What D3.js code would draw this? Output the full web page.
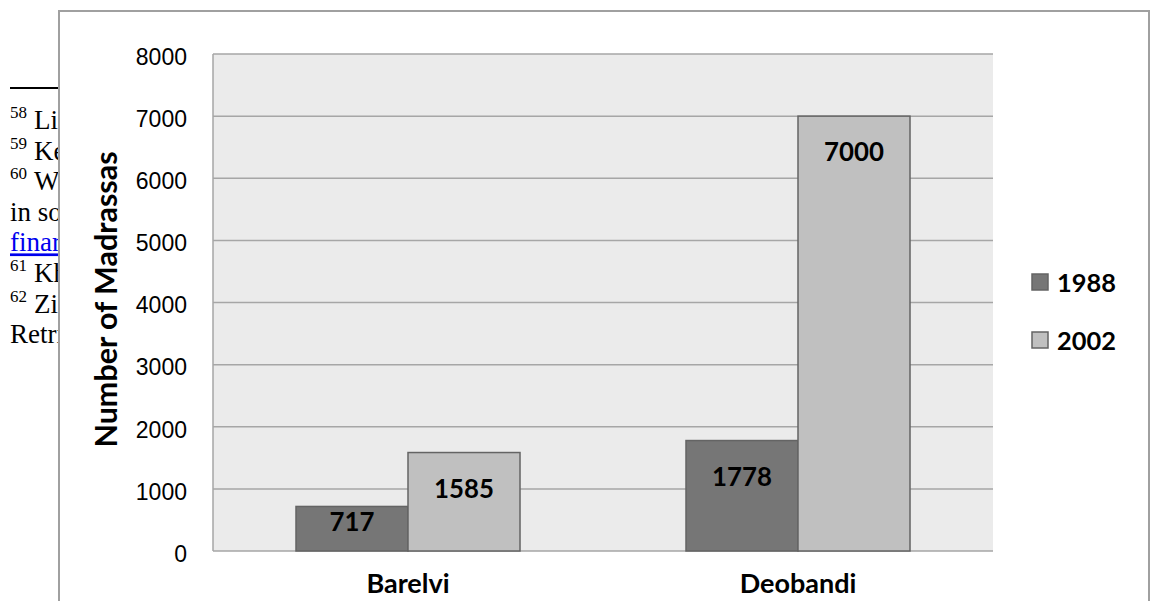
<!DOCTYPE html>
<html>
<head>
<meta charset="utf-8">
<script src="https://cdn.jsdelivr.net/npm/d3@7"></script>
<style>
  html, body { margin: 0; padding: 0; background: #ffffff; }
  svg { display: block; }
</style>
</head>
<body>
<svg id="chart" width="1151" height="601"></svg>
<script>
// Madrassa counts by school of thought
const categories = ["Barelvi", "Deobandi"];
const seriesNames = ["1988", "2002"];
const values1988 = [717, 1778];
const values2002 = [1585, 7000];
const yTicks = [0, 1000, 2000, 3000, 4000, 5000, 6000, 7000, 8000];
const yTitle = "Number of Madrassas";

// Footnote fragments of the page behind the chart
const noteLines = [
  { sup: "58", text: "Li" },
  { sup: "59", text: "Ke" },
  { sup: "60", text: "W" },
  { sup: "", text: "in so" },
  { sup: "", text: "finar", link: true },
  { sup: "61", text: "Kh" },
  { sup: "62", text: "Zi" },
  { sup: "", text: "Retri" }
];

const seriesValues = [values1988, values2002];
const seriesFill = ["#767676", "#c0c0c0"];
const boldFont = "Lato, 'Open Sans', sans-serif";

const svg = d3.select("#chart");

// ---- page text behind the chart ----
const page = svg.append("g");
page.append("line")
  .attr("x1", 10).attr("x2", 60).attr("y1", 88).attr("y2", 88)
  .attr("stroke", "#000").attr("stroke-width", 2);
noteLines.forEach((d, i) => {
  const yy = 129 + i * 30.6;
  const t = page.append("text")
    .attr("x", 10).attr("y", yy)
    .attr("font-family", "'Liberation Serif', 'Times New Roman', serif")
    .attr("font-size", 27)
    .attr("fill", d.link ? "#0000ee" : "#000");
  if (d.sup) {
    t.append("tspan").attr("font-size", 17).attr("dy", -11).text(d.sup);
    t.append("tspan").attr("dy", 11).attr("dx", 7).text(d.text);
  } else {
    t.append("tspan").text(d.text);
  }
  if (d.link) t.attr("text-decoration", "underline");
});

// ---- chart frame ----
const frame = { x: 59, y: 11, w: 1090, h: 620 };
svg.append("rect")
  .attr("x", frame.x).attr("y", frame.y)
  .attr("width", frame.w).attr("height", frame.h)
  .attr("fill", "#ffffff").attr("stroke", "#a0a0a0").attr("stroke-width", 2);

const plot = { left: 213, right: 993, top: 54, bottom: 551 };

const x0 = d3.scaleBand().domain(categories)
  .range([plot.left, plot.right]).paddingInner(0).paddingOuter(0);
const x1 = d3.scaleBand().domain(seriesNames)
  .range([0, x0.bandwidth()]).paddingInner(0).paddingOuter(0.741);
const y = d3.scaleLinear().domain([0, 8000]).range([plot.bottom, plot.top]);

// plot background
svg.append("rect")
  .attr("x", plot.left).attr("y", plot.top)
  .attr("width", plot.right - plot.left).attr("height", plot.bottom - plot.top)
  .attr("fill", "#ebebeb");

// gridlines
svg.append("g").selectAll("line").data(yTicks).join("line")
  .attr("x1", plot.left).attr("x2", plot.right)
  .attr("y1", d => y(d)).attr("y2", d => y(d))
  .attr("stroke", "#a6a6a6").attr("stroke-width", 1.5);

// plot border (left edge)
svg.append("line")
  .attr("x1", plot.left).attr("x2", plot.left)
  .attr("y1", plot.top).attr("y2", plot.bottom)
  .attr("stroke", "#a6a6a6").attr("stroke-width", 1.5);

// y axis via d3.axisLeft
const yAxis = svg.append("g")
  .attr("transform", `translate(${plot.left},0)`)
  .call(d3.axisLeft(y).tickValues(yTicks).tickSize(0).tickPadding(26).tickFormat(d3.format("d")));
yAxis.select(".domain").remove();
yAxis.selectAll("text")
  .attr("font-family", "'Liberation Sans', Arial, sans-serif")
  .attr("font-size", 23)
  .attr("fill", "#000")
  .attr("dy", "0.45em");

// x axis labels
const xAxis = svg.append("g")
  .attr("transform", `translate(0,${plot.bottom})`)
  .call(d3.axisBottom(x0).tickSize(0).tickPadding(23));
xAxis.select(".domain").remove();
xAxis.selectAll("text")
  .attr("font-family", boldFont)
  .attr("font-weight", "bold")
  .attr("font-size", 27)
  .attr("fill", "#000");

// y title
svg.append("text")
  .attr("transform", `translate(117,${(plot.top + plot.bottom) / 2 - 3}) rotate(-90)`)
  .attr("text-anchor", "middle")
  .attr("font-family", boldFont)
  .attr("font-weight", "bold")
  .attr("font-size", 30.5)
  .attr("fill", "#000")
  .text(yTitle);

// bars
const groups = svg.append("g").selectAll("g").data(categories).join("g")
  .attr("transform", d => `translate(${x0(d)},0)`);

const barData = (c, ci) => seriesNames.map((s, si) => ({ s, si, v: seriesValues[si][ci] }));

groups.selectAll("rect").data((c, ci) => barData(c, ci)).join("rect")
  .attr("x", d => x1(d.s))
  .attr("width", x1.bandwidth())
  .attr("y", d => y(d.v))
  .attr("height", d => y(0) - y(d.v))
  .attr("fill", d => seriesFill[d.si])
  .attr("stroke", "#646464")
  .attr("stroke-width", 1.5);

// value labels inside the bar top
groups.selectAll("text.val").data((c, ci) => barData(c, ci)).join("text")
  .attr("class", "val")
  .attr("x", d => x1(d.s) + x1.bandwidth() / 2)
  .attr("y", d => Math.min(y(d.v) + 36, y(0) - 29))
  .attr("dy", "0.35em")
  .attr("text-anchor", "middle")
  .attr("font-family", boldFont)
  .attr("font-weight", "bold")
  .attr("font-size", 25.8)
  .attr("fill", "#000")
  .text(d => d.v);

// legend
const legend = svg.append("g").selectAll("g").data(seriesNames).join("g")
  .attr("transform", (d, i) => `translate(1032,${282 + i * 58})`);
legend.append("rect")
  .attr("x", 0).attr("y", -8).attr("width", 16).attr("height", 16)
  .attr("fill", (d, i) => seriesFill[i])
  .attr("stroke", "#646464").attr("stroke-width", 1.5);
legend.append("text")
  .attr("x", 25).attr("y", 1).attr("dy", "0.35em")
  .attr("font-family", boldFont)
  .attr("font-weight", "bold")
  .attr("font-size", 25.4)
  .attr("fill", "#000")
  .text(d => d);
</script>
</body>
</html>
